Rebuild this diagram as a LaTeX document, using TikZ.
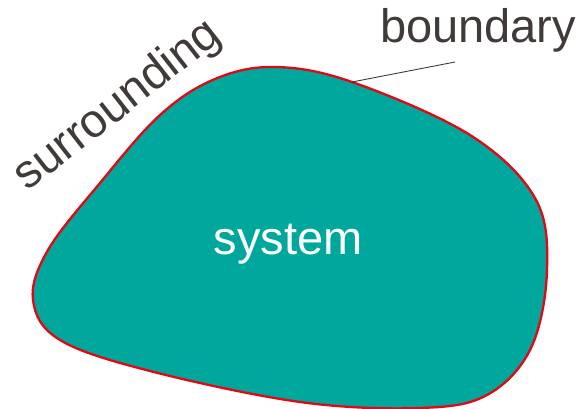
\documentclass[tikz,border=0pt]{standalone}
\usepackage{fontspec}
\setmainfont{Liberation Sans}
\usepackage{xcolor}
\usepackage{tikz}
\usetikzlibrary{calc}
\definecolor{sysfill}{RGB}{0,167,157}
\definecolor{bndred}{RGB}{227,6,19}
\definecolor{txtgray}{RGB}{64,58,56}
\tikzset{
	label text/.style={text=txtgray, inner sep=0pt, font=\fontsize{47}{51}\selectfont},
}

\begin{document}
\begin{tikzpicture}[x=1pt, y=-1pt]
	
	\useasboundingbox (0,0) rectangle (582,409);
	
	% Sistema
	\filldraw[fill=sysfill, draw=bndred, line width=2.3pt]
	plot[smooth cycle, tension=0.6] coordinates {
		(275,67) (352,82) (470,135) (535,198) (547,270) (531,348)
		(487,395) (420,408) (300,402) (150,371) (60,340) (33,300)
		(48,250) (100,183) (160,115) (215,79)
	};
	
	\node[label text, text=white, anchor=base] (sys) at (288,255) {system};
	
	%% Etichette
	\node[label text, anchor=center, rotate=38] (surr) at (118,106) {surrounding};
	\node[label text, anchor=base west] (bound) at (380,43) {boundary};
	
	\coordinate[](bnd) at (352,82);
	\coordinate[](tip) at (455,62);
	\draw[line width=0.9pt, txtgray] (bnd) -- (tip);
	
\end{tikzpicture}
\end{document}
